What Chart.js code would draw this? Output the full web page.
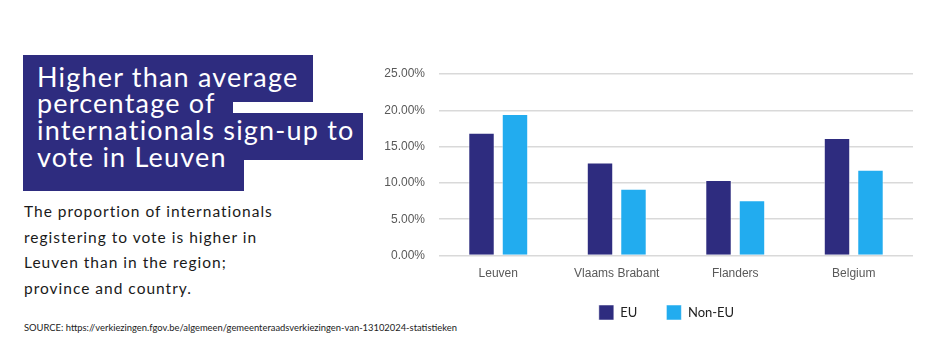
<!DOCTYPE html>
<html>
<head>
<meta charset="utf-8">
<script src="https://cdn.jsdelivr.net/npm/chart.js@4/dist/chart.umd.min.js"></script>
<style>
  html, body { margin: 0; padding: 0; background: #ffffff; }
  #wrap { position: relative; width: 936px; height: 347px; overflow: hidden; font-family: Lato, "Open Sans", sans-serif; }
  .blk { position: absolute; background: #2E2C7F; }
  #title { position: absolute; left: 37px; top: 63.5px; color: #ffffff; font-size: 27px; line-height: 26.7px; letter-spacing: 1.2px; white-space: nowrap; }
  #sub { position: absolute; left: 24px; top: 199px; color: #1a1a1a; font-size: 15.5px; line-height: 25.6px; letter-spacing: 1px; white-space: nowrap; }
  #src { position: absolute; left: 24px; top: 322px; color: #222222; font-size: 9.4px; white-space: nowrap; }
  #c { position: absolute; left: 0; top: 0; }
</style>
</head>
<body>
<div id="wrap">
  <!-- stepped headline panel -->
  <div class="blk" style="left:23px;top:55px;width:290px;height:47px"></div>
  <div class="blk" style="left:23px;top:101px;width:210px;height:14px"></div>
  <div class="blk" style="left:23px;top:113px;width:340px;height:47px"></div>
  <div class="blk" style="left:23px;top:159px;width:221px;height:32px"></div>
  <div id="title">Higher than average<br>percentage of<br>internationals sign-up to<br>vote in Leuven</div>
  <div id="sub">The proportion of internationals<br>registering to vote is higher in<br>Leuven than in the region;<br>province and country.</div>
  <div id="src">SOURCE: https://verkiezingen.fgov.be/algemeen/gemeenteraadsverkiezingen-van-13102024-statistieken</div>
  <canvas id="c" width="936" height="347"></canvas>
</div>
<script>
// Areas compared
const categories = ["Leuven", "Vlaams Brabant", "Flanders", "Belgium"];
// Share of internationals registered to vote (%)
const euValues = [16.9, 12.8, 10.4, 16.2];
const nonEuValues = [19.5, 9.2, 7.6, 11.8];
// Value axis ticks (%)
const yTicks = [0, 5, 10, 15, 20, 25];

const NAVY = "#2E2C7F";
const SKY = "#22ACEF";

// Move the legend box: right so it sits under the middle of the plot, and up a little
const legendShift = {
  id: "legendShift",
  afterLayout(chart) {
    const lg = chart.legend;
    if (lg) {
      lg.left += 25;
      lg.right += 25;
      lg.top -= 9.5;
      lg.bottom -= 9.5;
    }
  }
};

new Chart(document.getElementById("c"), {
  type: "bar",
  data: {
    labels: categories,
    datasets: [
      { label: "EU", data: euValues, backgroundColor: NAVY, borderColor: "rgba(255,255,255,0.5)", borderWidth: 1 },
      { label: "Non-EU", data: nonEuValues, backgroundColor: SKY, borderColor: "rgba(255,255,255,0.5)", borderWidth: 1 }
    ]
  },
  plugins: [legendShift],
  options: {
    responsive: false,
    animation: false,
    devicePixelRatio: 1,
    categoryPercentage: 0.565,
    barPercentage: 0.79,
    layout: { padding: { left: 370, right: 23, top: 74, bottom: 7.5 } },
    plugins: {
      tooltip: { enabled: false },
      legend: {
        position: "bottom",
        labels: {
          boxWidth: 15,
          boxHeight: 15,
          padding: 29,
          color: "#222222",
          font: { family: "Lato", size: 13 }
        }
      }
    },
    scales: {
      x: {
        grid: { display: false, drawTicks: false },
        border: { display: false },
        ticks: { color: "#595959", padding: 11, font: { family: "Liberation Sans", size: 12 } },
        afterFit: (s) => { s.height = 30; }
      },
      y: {
        min: yTicks[0],
        max: yTicks[yTicks.length - 1],
        afterBuildTicks: (s) => { s.ticks = yTicks.map(v => ({ value: v })); },
        grid: { color: "#D9D9D9", lineWidth: 1.5, drawTicks: false },
        border: { display: false },
        ticks: {
          color: "#595959",
          padding: 14,
          font: { family: "Liberation Sans", size: 12 },
          callback: (v) => v.toFixed(2) + "%"
        },
        afterFit: (s) => { s.width = 69; }
      }
    }
  }
});
</script>
</body>
</html>
